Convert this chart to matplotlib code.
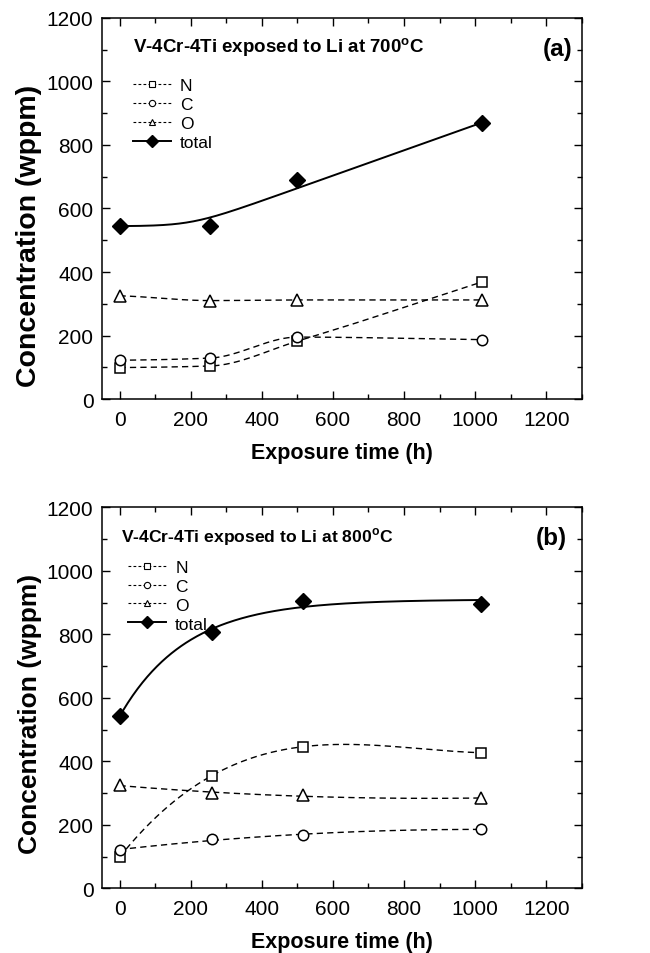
import numpy as np
import matplotlib
matplotlib.use("Agg")
import matplotlib.pyplot as plt
from matplotlib.ticker import MultipleLocator

plt.rcParams['font.family'] = ['Liberation Sans', 'DejaVu Sans']

# ---- data (a) 700 C ----
time_a = [0, 255, 500, 1020]
N_a = [99, 104, 182, 369]
C_a = [122, 129, 195, 187]
O_a = [325, 310, 312, 312]
total_a = [545, 545, 690, 870]

# ---- data (b) 800 C ----
time_b = [0, 260, 516, 1017]
N_b = [98, 355, 446, 427]
C_b = [121, 154, 168, 186]
O_b = [325, 299, 293, 284]
total_b = [542, 808, 906, 896]

titles = ["V-4Cr-4Ti exposed to Li at 700$^{\\mathregular{o}}$C",
          "V-4Cr-4Ti exposed to Li at 800$^{\\mathregular{o}}$C"]
panel_labels = ["(a)", "(b)"]
series_names = ["N", "C", "O", "total"]


def poly_fit(x, y, powers):
    x = np.asarray(x, float); y = np.asarray(y, float)
    s = 1000.0
    A = np.column_stack([(x / s) ** p for p in powers])
    coef, *_ = np.linalg.lstsq(A, y, rcond=None)
    xs = np.linspace(x.min(), x.max(), 300)
    As = np.column_stack([(xs / s) ** p for p in powers])
    return xs, As @ coef


def pchip(x, y):
    x = np.asarray(x, float); y = np.asarray(y, float)
    h = np.diff(x); d = np.diff(y) / h
    n = len(x); m = np.zeros(n)
    for k in range(1, n - 1):
        if d[k - 1] * d[k] > 0:
            w1 = 2 * h[k] + h[k - 1]; w2 = h[k] + 2 * h[k - 1]
            m[k] = (w1 + w2) / (w1 / d[k - 1] + w2 / d[k])
    m[0] = d[0] * 0.5 if d[0] != 0 else 0
    m[-1] = d[-1]
    xs = np.linspace(x.min(), x.max(), 400)
    ys = np.empty_like(xs)
    for j, xv in enumerate(xs):
        k = min(np.searchsorted(x, xv, side='right') - 1, n - 2)
        t = (xv - x[k]) / h[k]
        h00 = 2 * t**3 - 3 * t**2 + 1; h10 = t**3 - 2 * t**2 + t
        h01 = -2 * t**3 + 3 * t**2; h11 = t**3 - t**2
        ys[j] = h00 * y[k] + h10 * h[k] * m[k] + h01 * y[k + 1] + h11 * h[k] * m[k + 1]
    return xs, ys


def softplus_fit(x, y, w):
    x = np.asarray(x, float); y = np.asarray(y, float); w = np.asarray(w, float)
    best = None
    for c in np.linspace(50, 400, 71):
        for d in np.linspace(50, 120, 15):
            f = d * np.logaddexp(0, (x - c) / d)
            A = np.column_stack([np.ones_like(x), f])
            coef, *_ = np.linalg.lstsq(A * w[:, None], y * w, rcond=None)
            r = np.sum(w * (A @ coef - y) ** 2)
            if best is None or r < best[0]:
                best = (r, c, d, coef)
    _, c, d, coef = best
    xs = np.linspace(x.min(), x.max(), 300)
    return xs, coef[0] + coef[1] * d * np.logaddexp(0, (xs - c) / d)


def exp_fit(x, y):
    x = np.asarray(x, float); y = np.asarray(y, float)
    best = None
    for tau in np.linspace(50, 1000, 400):
        A = np.column_stack([np.ones_like(x), np.exp(-x / tau)])
        coef, *_ = np.linalg.lstsq(A, y, rcond=None)
        r = np.sum((A @ coef - y) ** 2)
        if best is None or r < best[0]:
            best = (r, tau, coef)
    _, tau, coef = best
    xs = np.linspace(x.min(), x.max(), 300)
    return xs, coef[0] + coef[1] * np.exp(-xs / tau)


fig = plt.figure(figsize=(6.5, 9.54), dpi=100)
ax_a = fig.add_axes([0.1565, 0.5807, 0.7385, 0.3994])
ax_b = fig.add_axes([0.1565, 0.0678, 0.7385, 0.3994])

dash = (0, (4.5, 3))
mk = dict(color='black', markerfacecolor='white', markeredgecolor='black', markeredgewidth=1.1)

cfg = [
    dict(ax=ax_a, t=time_a, N=N_a, C=C_a, O=O_a, T=total_a, dashed='pchip', total='softplus',
         leg_x=0.04, leg_y=0.875, title_x=0.065, title_fs=13.5, ylab_fs=20.5, ylab_y=0.43,
         lab_x=0.98),
    dict(ax=ax_b, t=time_b, N=N_b, C=C_b, O=O_b, T=total_b, dashed='poly', total='exp',
         leg_x=0.03, leg_y=0.895, title_x=0.04, title_fs=12.6, ylab_fs=19, ylab_y=0.46,
         lab_x=0.97),
]
polydeg = {'N': [0, 1, 2, 3], 'C': [0, 1, 2], 'O': [0, 1, 2]}

for i, c in enumerate(cfg):
    ax, t = c['ax'], c['t']
    for name, vals, marker, ms in [('N', c['N'], 's', 7), ('C', c['C'], 'o', 7.5), ('O', c['O'], '^', 8)]:
        if c['dashed'] == 'pchip':
            xs, ys = pchip(t, vals)
        else:
            xs, ys = poly_fit(t, vals, polydeg[name])
        ax.plot(xs, ys, color='black', lw=1.0, linestyle=dash)
        ax.plot(t, vals, linestyle='none', marker=marker, markersize=ms, **mk)
    if c['total'] == 'softplus':
        xs, ys = softplus_fit(t, c['T'], [4, 1, 1, 3])
    else:
        xs, ys = exp_fit(t, c['T'])
    ax.plot(xs, ys, color='black', lw=1.4)
    ax.plot(t, c['T'], linestyle='none', marker='D', markersize=8, color='black')

    handles = []
    for name, marker, ms in [('N', 's', 4), ('C', 'o', 4.5), ('O', '^', 5)]:
        h, = ax.plot([], [], color='black', lw=0.8, linestyle=(0, (2.5, 2)), marker=marker,
                     markersize=ms, markerfacecolor='white', markeredgecolor='black', markeredgewidth=0.8)
        handles.append(h)
    h, = ax.plot([], [], color='black', lw=1.4, marker='D', markersize=6)
    handles.append(h)
    ax.legend(handles, series_names, loc='upper left', bbox_to_anchor=(c['leg_x'], c['leg_y']),
              frameon=False, fontsize=12.5, handlelength=2.2, handletextpad=0.5,
              labelspacing=0.22, borderpad=0.2)

    ax.text(c['title_x'], 0.925, titles[i], transform=ax.transAxes,
            fontsize=c['title_fs'], fontweight='bold', va='center', ha='left')
    ax.text(c['lab_x'], 0.92, panel_labels[i], transform=ax.transAxes,
            fontsize=17.5, fontweight='bold', va='center', ha='right')

    ax.set_xlim(-50, 1300)
    ax.set_ylim(0, 1200)
    ax.set_xticks(np.arange(0, 1201, 200))
    ax.set_yticks(np.arange(0, 1201, 200))
    ax.xaxis.set_minor_locator(MultipleLocator(100))
    ax.yaxis.set_minor_locator(MultipleLocator(100))
    ax.tick_params(which='both', direction='in', top=True, right=True, labelsize=15, width=1.0)
    ax.tick_params(which='major', length=6)
    ax.tick_params(axis='x', which='major', pad=8)
    ax.tick_params(axis='y', which='major', pad=6)
    ax.tick_params(which='minor', length=3.5)
    for sp in ax.spines.values():
        sp.set_linewidth(1.1)
    ax.set_xlabel('Exposure time (h)', fontsize=15.5, fontweight='bold', labelpad=9)
    ax.set_ylabel('Concentration (wppm)', fontsize=c['ylab_fs'], fontweight='bold')
    ax.yaxis.set_label_coords(-0.125, c['ylab_y'])

fig.savefig('out.png', dpi=100)
